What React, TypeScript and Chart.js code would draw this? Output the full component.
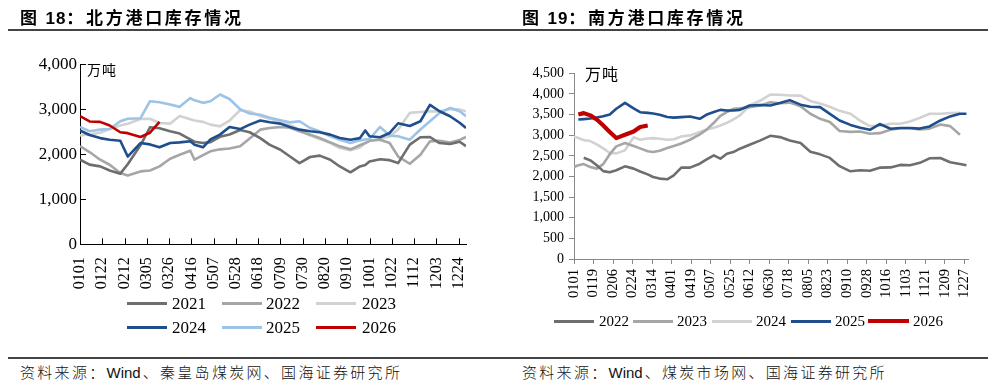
import React, { useEffect, useRef } from "react";
import { Chart, registerables } from "chart.js";

Chart.register(...registerables);

// ---------- North ports (图18) ----------
const northTickLabels = ["0101","0122","0212","0305","0326","0416","0507","0528","0618","0709","0730","0820","0910","1001","1022","1112","1203","1224"];
const northDays = [0, 9, 19, 28, 38, 45, 57, 66, 75, 85, 94, 104, 108, 116, 123, 132, 141, 151, 160, 170, 179, 189, 198, 207, 217, 226, 236, 245, 255, 264, 269, 273, 283, 292, 300, 311, 321, 330, 339, 349, 358, 364];
const north2021 = [1880, 1770, 1731, 1640, 1570, 1780, 2200, 2600, 2580, 2510, 2460, 2330, 2280, 2250, 2270, 2390, 2440, 2540, 2490, 2360, 2210, 2100, 1950, 1805, 1940, 1970, 1880, 1730, 1600, 1730, 1760, 1840, 1890, 1870, 1805, 2214, 2380, 2385, 2250, 2230, 2280, 2180];
const north2022 = [2180, 2050, 1880, 1768, 1583, 1530, 1620, 1640, 1731, 1900, 1990, 2080, 1880, 1980, 2066, 2110, 2130, 2177, 2350, 2548, 2585, 2608, 2590, 2511, 2437, 2362, 2266, 2177, 2110, 2200, 2250, 2300, 2325, 2250, 1950, 1790, 1991, 2288, 2300, 2260, 2320, 2385];
const north2023 = [2420, 2440, 2480, 2560, 2638, 2680, 2786, 2790, 2697, 2682, 2850, 2780, 2750, 2720, 2660, 2620, 2750, 2980, 2950, 2850, 2790, 2740, 2650, 2540, 2415, 2340, 2251, 2140, 2090, 2150, 2250, 2300, 2340, 2400, 2550, 2920, 2940, 2957, 2950, 3009, 2994, 2957];
const north2024 = [2530, 2430, 2360, 2325, 2300, 1950, 2250, 2220, 2155, 2250, 2265, 2290, 2214, 2155, 2330, 2437, 2608, 2560, 2660, 2750, 2712, 2682, 2608, 2548, 2511, 2489, 2437, 2362, 2325, 2360, 2530, 2400, 2380, 2474, 2690, 2630, 2734, 3100, 2957, 2846, 2700, 2585];
const north2025 = [2608, 2511, 2548, 2563, 2734, 2790, 2800, 3180, 3158, 3106, 3054, 3250, 3200, 3143, 3180, 3330, 3230, 3000, 2905, 2880, 2810, 2756, 2710, 2735, 2585, 2510, 2400, 2325, 2250, 2310, 2330, 2340, 2608, 2415, 2400, 2325, 2550, 2735, 2920, 3030, 2957, 2846];
const north2026 = [2850, 2730, 2720, 2640, 2490, 2470, 2385, 2480, 2720, null, null, null, null, null, null, null, null, null, null, null, null, null, null, null, null, null, null, null, null, null, null, null, null, null, null, null, null, null, null, null, null, null];

// ---------- South ports (图19) ----------
const southTickLabels = ["0101","0119","0206","0224","0314","0401","0419","0507","0525","0612","0630","0718","0805","0823","0910","0928","1016","1103","1121","1209","1227"];
const southDays = [0, 4, 9, 15, 21, 27, 33, 39, 47, 55, 61, 68, 73, 79, 86, 92, 99, 107, 116, 122, 129, 135, 141, 147, 153, 162, 172, 181, 190, 199, 209, 218, 227, 236, 245, 255, 264, 273, 282, 292, 301, 310, 319, 328, 338, 347, 356, 362];
const south2022 = [null, null, 2455, 2391, 2270, 2130, 2100, 2150, 2246, 2190, 2120, 2050, 1988, 1948, 1932, 2028, 2214, 2214, 2310, 2407, 2512, 2431, 2552, 2592, 2673, 2770, 2874, 2985, 2954, 2874, 2809, 2600, 2536, 2450, 2250, 2125, 2149, 2140, 2214, 2220, 2280, 2270, 2330, 2440, 2447, 2345, 2300, 2270];
const south2023 = [2230, 2270, 2300, 2230, 2190, 2300, 2540, 2730, 2809, 2740, 2680, 2610, 2592, 2625, 2690, 2740, 2800, 2890, 3020, 3130, 3300, 3470, 3558, 3639, 3650, 3680, 3719, 3800, 3775, 3790, 3700, 3520, 3397, 3320, 3100, 3080, 3090, 3035, 3050, 3130, 3170, 3170, 3140, 3160, 3260, 3220, 3010, null];
const south2024 = [2970, 2930, 2880, 2858, 2777, 2680, 2570, 2560, 2632, 2950, 2890, 2920, 2930, 2914, 2890, 2900, 2970, 2995, 3075, 3130, 3180, 3236, 3300, 3380, 3478, 3719, 3840, 3985, 3980, 3961, 3960, 3830, 3770, 3690, 3590, 3520, 3350, 3220, 3230, 3276, 3276, 3330, 3420, 3518, 3520, 3534, 3540, null];
const south2025 = [null, 3380, 3390, 3405, 3430, 3460, 3502, 3640, 3783, 3650, 3558, 3540, 3525, 3494, 3440, 3425, 3437, 3453, 3397, 3494, 3560, 3614, 3600, 3600, 3614, 3720, 3730, 3720, 3780, 3850, 3740, 3690, 3680, 3518, 3357, 3250, 3180, 3130, 3270, 3156, 3175, 3175, 3160, 3212, 3357, 3455, 3518, 3518];
const south2026 = [null, 3502, 3535, 3480, 3380, 3236, 3080, 2930, 3010, 3090, 3200, 3236, null, null, null, null, null, null, null, null, null, null, null, null, null, null, null, null, null, null, null, null, null, null, null, null, null, null, null, null, null, null, null, null, null, null, null, null];

const C_DGRAY = "#6e6e6e";
const C_MGRAY = "#a6a6a6";
const C_LGRAY = "#d2d2d2";
const C_DBLUE = "#1f4e8c";
const C_LBLUE = "#9dc3e6";
const C_RED = "#c00000";

const SERIF = "'Liberation Serif', 'Times New Roman', serif";
const CJK = "'Noto Sans CJK SC', sans-serif";

function pts(days: number[], vals: (number | null)[]) {
  return days.map((d, i) => ({ x: d, y: vals[i] }));
}

function ds(label: string, days: number[], vals: (number | null)[], color: string, width: number) {
  return {
    label,
    data: pts(days, vals),
    borderColor: color,
    backgroundColor: color,
    borderWidth: width,
    pointRadius: 0,
    tension: 0,
    spanGaps: false,
    borderJoinStyle: "round" as const,
  };
}

const keepStep = (step: number) => (s: any) => {
  s.ticks = s.ticks.filter((t: any) => Math.abs(t.value / step - Math.round(t.value / step)) < 1e-6);
};

const inwardTicks = {
  id: "inwardTicks",
  afterDraw(chart: any) {
    const { ctx, chartArea, scales } = chart;
    ctx.save();
    ctx.strokeStyle = "#000";
    ctx.lineWidth = 1;
    ctx.beginPath();
    scales.x.ticks.forEach((t: any) => {
      const px = Math.round(scales.x.getPixelForValue(t.value)) + 0.5;
      ctx.moveTo(px, chartArea.bottom);
      ctx.lineTo(px, chartArea.bottom - 6);
    });
    scales.y.ticks.forEach((t: any) => {
      const py = Math.round(scales.y.getPixelForValue(t.value)) + 0.5;
      ctx.moveTo(chartArea.left, py);
      ctx.lineTo(chartArea.left + 6, py);
    });
    ctx.stroke();
    ctx.restore();
  },
};

function LegendItem({ x1, x2, tx, cy, color, label, thick, fontSize }: any) {
  return (
    <>
      <div style={{ position: "absolute", left: x1, top: cy - thick / 2, width: x2 - x1, height: thick, background: color }} />
      <div style={{ position: "absolute", left: tx, top: cy - fontSize / 2, fontFamily: SERIF, fontSize, lineHeight: `${fontSize}px`, color: "#000", whiteSpace: "nowrap" }}>{label}</div>
    </>
  );
}

export default function App() {
  const leftRef = useRef<HTMLCanvasElement>(null);
  const rightRef = useRef<HTMLCanvasElement>(null);

  useEffect(() => {
    const left = new Chart(leftRef.current!, {
      type: "line",
      data: {
        datasets: [
          ds("2026", northDays, north2026, C_RED, 2.6),
          ds("2024", northDays, north2024, C_DBLUE, 2.6),
          ds("2025", northDays, north2025, C_LBLUE, 2.6),
          ds("2021", northDays, north2021, C_DGRAY, 2.6),
          ds("2022", northDays, north2022, C_MGRAY, 2.6),
          ds("2023", northDays, north2023, C_LGRAY, 2.6),
        ],
      },
      options: {
        responsive: false,
        animation: false,
        devicePixelRatio: 1,
        layout: { padding: { left: 0, right: 34, top: 64.3, bottom: 0 } },
        plugins: { legend: { display: false }, tooltip: { enabled: false } },
        scales: {
          x: {
            type: "linear",
            min: 0,
            max: 364,
            bounds: "data",
            afterBuildTicks: keepStep(21),
            afterFit: (s: any) => { s.height = 55.7; },
            grid: { drawOnChartArea: false, drawTicks: false },
            border: { display: true, color: "#000", width: 1 },
            ticks: {
              stepSize: 21,
              includeBounds: false,
              autoSkip: false,
              maxRotation: 90,
              minRotation: 90,
              padding: 13,
              color: "#000",
              font: { family: SERIF, size: 16 },
              callback: (v: any) => northTickLabels[Math.round(v / 21)] ?? "",
            },
          },
          y: {
            min: 0,
            max: 4000,
            afterFit: (s: any) => { s.width = 80; },
            grid: { drawOnChartArea: false, drawTicks: false },
            border: { display: true, color: "#000", width: 1 },
            ticks: {
              stepSize: 1000,
              padding: 3,
              color: "#000",
              font: { family: SERIF, size: 17 },
              callback: (v: any) => Number(v).toLocaleString("en-US"),
            },
          },
        },
      },
      plugins: [inwardTicks],
    } as any);

    const right = new Chart(rightRef.current!, {
      type: "line",
      data: {
        datasets: [
          ds("2026", southDays, south2026, C_RED, 4.2),
          ds("2025", southDays, south2025, C_DBLUE, 2.6),
          ds("2022", southDays, south2022, C_DGRAY, 2.6),
          ds("2023", southDays, south2023, C_MGRAY, 2.6),
          ds("2024", southDays, south2024, C_LGRAY, 2.6),
        ],
      },
      options: {
        responsive: false,
        animation: false,
        devicePixelRatio: 1,
        layout: { padding: { left: 0, right: 29.4, top: 73.3, bottom: 0 } },
        plugins: { legend: { display: false }, tooltip: { enabled: false } },
        scales: {
          x: {
            type: "linear",
            min: 0,
            max: 364,
            bounds: "data",
            afterBuildTicks: keepStep(18),
            afterFit: (s: any) => { s.height = 41; },
            grid: { drawOnChartArea: false, drawTicks: true, tickLength: 5, color: "#888" },
            border: { display: true, color: "#888", width: 1 },
            ticks: {
              stepSize: 18,
              includeBounds: false,
              autoSkip: false,
              maxRotation: 90,
              minRotation: 90,
              padding: 5,
              color: "#000",
              font: { family: SERIF, size: 14.5 },
              callback: (v: any) => southTickLabels[Math.round(v / 18)] ?? "",
            },
          },
          y: {
            min: 0,
            max: 4500,
            afterFit: (s: any) => { s.width = 74; },
            grid: { drawOnChartArea: false, drawTicks: true, tickLength: 5, color: "#888" },
            border: { display: true, color: "#888", width: 1 },
            ticks: {
              stepSize: 500,
              padding: 5,
              color: "#000",
              font: { family: SERIF, size: 14 },
              callback: (v: any) => Number(v).toLocaleString("en-US"),
            },
          },
        },
      },
    } as any);

    return () => {
      left.destroy();
      right.destroy();
    };
  }, []);

  const titleStyle: React.CSSProperties = {
    position: "absolute",
    top: 8,
    fontFamily: CJK,
    fontWeight: 700,
    fontSize: 17,
    lineHeight: "17px",
    letterSpacing: "2.7px",
    color: "#000",
    whiteSpace: "nowrap",
  };
  const sourceStyle: React.CSSProperties = {
    position: "absolute",
    top: 364,
    fontFamily: CJK,
    fontWeight: 300,
    fontSize: 15,
    lineHeight: "15px",
    letterSpacing: "2.3px",
    color: "#111",
    whiteSpace: "nowrap",
  };
  const numStyle: React.CSSProperties = { fontFamily: "'Liberation Sans', Arial, sans-serif", letterSpacing: "1px" };
  const windStyle: React.CSSProperties = { fontFamily: "'Liberation Sans', Arial, sans-serif", letterSpacing: "0px", marginRight: 2 };

  const leftLegendCols = [
    { x1: 127, x2: 167, tx: 172 },
    { x1: 222, x2: 262, tx: 266 },
    { x1: 316, x2: 356, tx: 362 },
  ];
  const leftLegend = [
    { label: "2021", color: C_DGRAY },
    { label: "2022", color: C_MGRAY },
    { label: "2023", color: C_LGRAY },
    { label: "2024", color: C_DBLUE },
    { label: "2025", color: C_LBLUE },
    { label: "2026", color: C_RED },
  ];
  const rightLegend = [
    { label: "2022", color: C_DGRAY, x1: 554, x2: 594, tx: 599, thick: 3 },
    { label: "2023", color: C_MGRAY, x1: 633, x2: 673, tx: 677, thick: 3 },
    { label: "2024", color: C_LGRAY, x1: 712, x2: 752, tx: 756, thick: 3 },
    { label: "2025", color: C_DBLUE, x1: 791, x2: 831, tx: 835, thick: 3 },
    { label: "2026", color: C_RED, x1: 868, x2: 909, tx: 913, thick: 4.5 },
  ];

  return (
    <div style={{ position: "absolute", left: 0, top: 0, width: 998, height: 392, background: "#fff", overflow: "hidden" }}>
      <canvas ref={leftRef} width={500} height={300} style={{ position: "absolute", left: 0, top: 0, width: 500, height: 300 }} />
      <canvas ref={rightRef} width={498} height={300} style={{ position: "absolute", left: 500, top: 0, width: 498, height: 300 }} />

      <div style={{ ...titleStyle, left: 20 }}>
        图<span style={numStyle}> 18</span>：北方港口库存情况
      </div>
      <div style={{ ...titleStyle, left: 522 }}>
        图<span style={numStyle}> 19</span>：南方港口库存情况
      </div>

      <div style={{ position: "absolute", left: 8, top: 29, width: 980, height: 2, background: "#444" }} />
      <div style={{ position: "absolute", left: 8, top: 357, width: 980, height: 2, background: "#444" }} />

      <div style={{ position: "absolute", left: 87, top: 62, fontFamily: CJK, fontSize: 14, lineHeight: "14px", color: "#000", letterSpacing: "1px" }}>万吨</div>
      <div style={{ position: "absolute", left: 585, top: 64.5, fontFamily: CJK, fontSize: 16, lineHeight: "16px", color: "#000", letterSpacing: "1px" }}>万吨</div>

      {leftLegend.map((it, i) => {
        const col = leftLegendCols[i % 3];
        const cy = i < 3 ? 303.3 : 327.3;
        return <LegendItem key={it.label} x1={col.x1} x2={col.x2} tx={col.tx} cy={cy} color={it.color} label={it.label} thick={3} fontSize={17} />;
      })}
      {rightLegend.map((it) => (
        <LegendItem key={it.label} x1={it.x1} x2={it.x2} tx={it.tx} cy={321} color={it.color} label={it.label} thick={it.thick} fontSize={15} />
      ))}

      <div style={{ ...sourceStyle, left: 20 }}>
        资料来源：<span style={windStyle}>Wind</span>、秦皇岛煤炭网、国海证券研究所
      </div>
      <div style={{ ...sourceStyle, left: 522 }}>
        资料来源：<span style={windStyle}>Wind</span>、煤炭市场网、国海证券研究所
      </div>
    </div>
  );
}
